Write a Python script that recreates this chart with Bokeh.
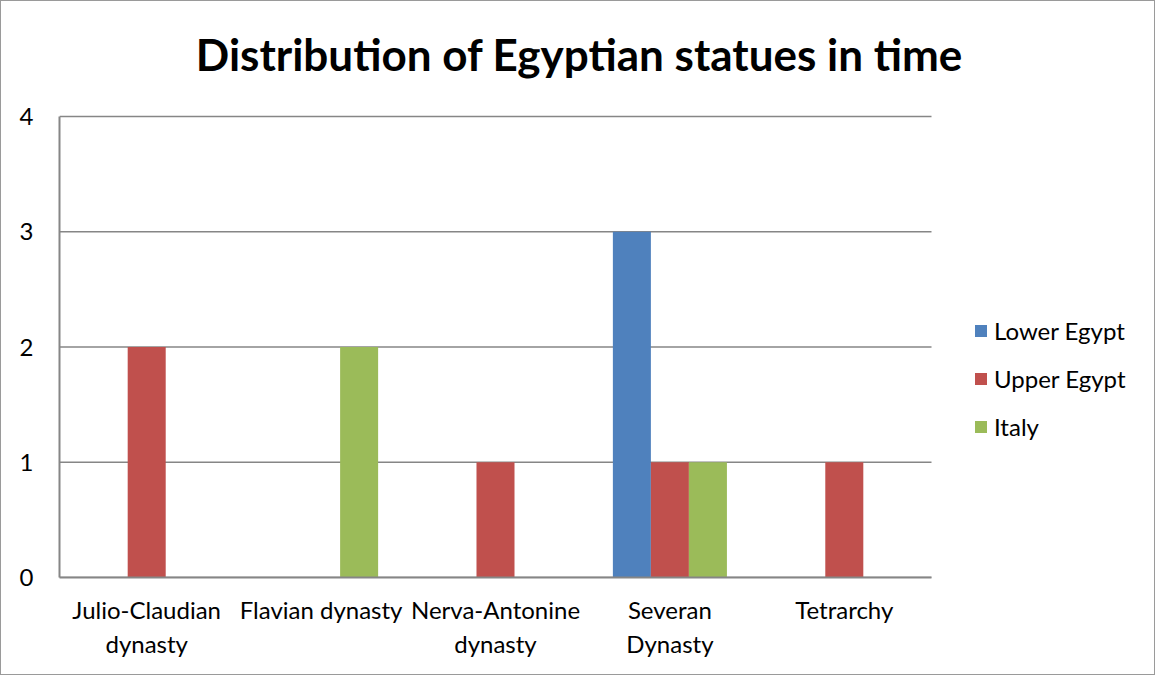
from bokeh.plotting import figure
from bokeh.models import Range1d, FixedTicker, Legend, LegendItem, Label
from bokeh.embed import file_html
from bokeh.resources import INLINE

categories = ["Julio-Claudian\ndynasty", "Flavian dynasty", "Nerva-Antonine\ndynasty", "Severan\nDynasty", "Tetrarchy"]
series_names = ["Lower Egypt", "Upper Egypt", "Italy"]
lower_egypt = [0, 0, 0, 3, 0]
upper_egypt = [2, 0, 1, 1, 1]
italy = [0, 2, 0, 1, 0]
y_ticks = [0, 1, 2, 3, 4]
title_text = "Distribution of Egyptian statues in time"

colors = ["#4F81BD", "#C0504D", "#9BBB59"]
FONT = "Lato"
W, H = 1155, 675
# plot area in pixels: left 58, right 930, top 115, bottom 576
L, R, T, B = 58, 930, 115, 576
ncat = len(categories)
ymax = max(y_ticks)
xu = (R - L) / ncat          # px per category
yu = (B - T) / ymax          # px per unit

p = figure(width=W, height=H, output_backend="svg", toolbar_location=None,
           x_range=Range1d(0, (W - L) / xu), y_range=Range1d(0, B / yu),
           min_border_left=L, min_border_right=0, min_border_top=0, min_border_bottom=H - B)
p.outline_line_color = None
p.background_fill_color = "white"
p.border_fill_color = "white"
p.xgrid.grid_line_color = None
p.ygrid.grid_line_color = None

# horizontal gridlines limited to the plot area
p.segment(x0=[0] * len(y_ticks), x1=[ncat] * len(y_ticks), y0=y_ticks, y1=y_ticks,
          line_color="#868686", line_width=1.5)

bw = 0.218
legend_items = []
for k, (name, vals) in enumerate(zip(series_names, [lower_egypt, upper_egypt, italy])):
    xs = [i + 0.5 + (k - 1) * bw for i in range(ncat)]
    r = p.vbar(x=xs, top=vals, width=bw, bottom=0, fill_color=colors[k], line_color=None)
    legend_items.append(LegendItem(label=name, renderers=[r]))

# axes
p.xaxis.ticker = FixedTicker(ticks=[i + 0.5 for i in range(ncat)])
p.xaxis.major_label_overrides = {i + 0.5: c for i, c in enumerate(categories)}
p.xaxis.bounds = (0, ncat)
p.yaxis.ticker = FixedTicker(ticks=y_ticks)
p.yaxis.bounds = (0, ymax)
for ax in (p.xaxis, p.yaxis):
    ax.major_tick_line_color = None
    ax.minor_tick_line_color = None
    ax.axis_line_color = "#868686"
    ax.axis_line_width = 2
    ax.major_label_text_font = FONT
    ax.major_label_text_font_size = "24px"
    ax.major_label_text_color = "black"
p.xaxis.major_label_standoff = 11
p.yaxis.major_label_standoff = 20

legend = Legend(items=legend_items, location=(972 - L, 136), orientation="vertical",
                glyph_width=15, glyph_height=15, label_standoff=6, spacing=19,
                padding=0, margin=0, border_line_color=None, background_fill_alpha=0,
                label_text_font=FONT, label_text_font_size="24px", label_text_color="black")
p.add_layout(legend)

lab = Label(x=(578 - L) / xu, y=(B - 52) / yu,
            text=title_text, text_font=FONT, text_font_style="bold", text_font_size="44px",
            text_align="center", text_baseline="middle", text_color="black")
p.add_layout(lab)

p.styles = {"border": "1px solid #9a9a9a"}

open("out.html", "w").write(file_html(p, INLINE))
